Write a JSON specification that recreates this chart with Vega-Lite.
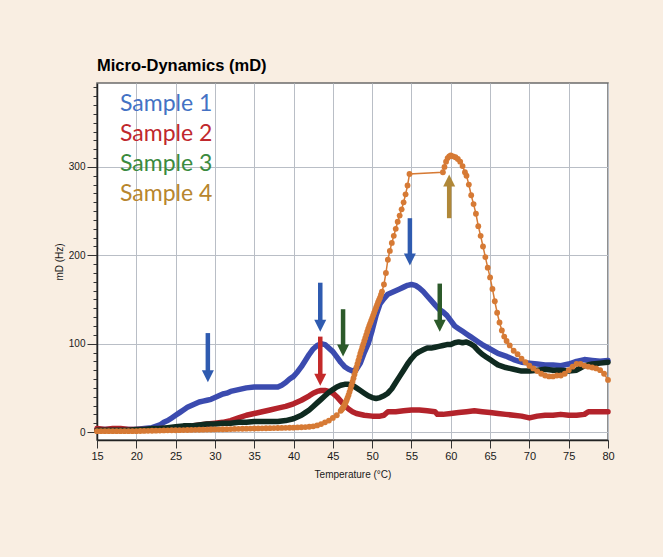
{
"$schema": "https://vega.github.io/schema/vega-lite/v6.json",
"width": 511, "height": 357,
"autosize": {"type": "none"},
"padding": {"left": 97, "top": 83, "right": 55, "bottom": 117},
"background": "#F9EEE2",
"config": {"view": {"fill": "white", "stroke": "#6b6b6b", "strokeWidth": 1.5}, "font": "Liberation Sans"},
"title": {"text": "Micro-Dynamics (mD)", "anchor": "start", "frame": "group", "font": "Liberation Sans", "fontSize": 16.5, "fontWeight": "bold", "color": "#000000", "offset": 8},
"datasets": {
"curves": [
{"sample":"Sample 1","temp":15,"mD":3},{"sample":"Sample 1","temp":16,"mD":3},{"sample":"Sample 1","temp":17,"mD":3},{"sample":"Sample 1","temp":18,"mD":3},{"sample":"Sample 1","temp":19,"mD":3},{"sample":"Sample 1","temp":20,"mD":3},{"sample":"Sample 1","temp":21,"mD":4},{"sample":"Sample 1","temp":22,"mD":5},{"sample":"Sample 1","temp":23,"mD":8},{"sample":"Sample 1","temp":23.5,"mD":11},{"sample":"Sample 1","temp":24,"mD":13},{"sample":"Sample 1","temp":24.5,"mD":16},{"sample":"Sample 1","temp":25,"mD":19},{"sample":"Sample 1","temp":25.5,"mD":22},{"sample":"Sample 1","temp":26,"mD":25},{"sample":"Sample 1","temp":26.5,"mD":28},{"sample":"Sample 1","temp":27,"mD":30},{"sample":"Sample 1","temp":27.5,"mD":32},{"sample":"Sample 1","temp":28,"mD":34},{"sample":"Sample 1","temp":28.5,"mD":35},{"sample":"Sample 1","temp":29,"mD":36},{"sample":"Sample 1","temp":29.5,"mD":37},{"sample":"Sample 1","temp":30,"mD":39},{"sample":"Sample 1","temp":30.5,"mD":41},{"sample":"Sample 1","temp":31,"mD":43},{"sample":"Sample 1","temp":31.5,"mD":44},{"sample":"Sample 1","temp":32,"mD":46},{"sample":"Sample 1","temp":33,"mD":48},{"sample":"Sample 1","temp":34,"mD":50},{"sample":"Sample 1","temp":35,"mD":51},{"sample":"Sample 1","temp":36,"mD":51},{"sample":"Sample 1","temp":37,"mD":51},{"sample":"Sample 1","temp":38,"mD":51},{"sample":"Sample 1","temp":38.5,"mD":53},{"sample":"Sample 1","temp":39,"mD":56},{"sample":"Sample 1","temp":39.5,"mD":60},{"sample":"Sample 1","temp":40,"mD":63},{"sample":"Sample 1","temp":40.5,"mD":68},{"sample":"Sample 1","temp":41,"mD":74},{"sample":"Sample 1","temp":41.5,"mD":81},{"sample":"Sample 1","temp":42,"mD":88},{"sample":"Sample 1","temp":42.5,"mD":94},{"sample":"Sample 1","temp":43,"mD":98},{"sample":"Sample 1","temp":43.5,"mD":100},{"sample":"Sample 1","temp":44,"mD":99},{"sample":"Sample 1","temp":44.5,"mD":95},{"sample":"Sample 1","temp":45,"mD":91},{"sample":"Sample 1","temp":45.5,"mD":85},{"sample":"Sample 1","temp":46,"mD":79},{"sample":"Sample 1","temp":46.5,"mD":74},{"sample":"Sample 1","temp":47,"mD":71},{"sample":"Sample 1","temp":47.5,"mD":69},{"sample":"Sample 1","temp":48,"mD":71},{"sample":"Sample 1","temp":48.5,"mD":78},{"sample":"Sample 1","temp":49,"mD":90},{"sample":"Sample 1","temp":49.5,"mD":100},{"sample":"Sample 1","temp":50,"mD":115},{"sample":"Sample 1","temp":50.5,"mD":132},{"sample":"Sample 1","temp":51,"mD":145},{"sample":"Sample 1","temp":51.5,"mD":151},{"sample":"Sample 1","temp":52,"mD":156},{"sample":"Sample 1","temp":52.5,"mD":158},{"sample":"Sample 1","temp":53,"mD":160},{"sample":"Sample 1","temp":53.5,"mD":162},{"sample":"Sample 1","temp":54,"mD":164},{"sample":"Sample 1","temp":54.5,"mD":166},{"sample":"Sample 1","temp":55,"mD":167},{"sample":"Sample 1","temp":55.5,"mD":166},{"sample":"Sample 1","temp":56,"mD":163},{"sample":"Sample 1","temp":56.5,"mD":159},{"sample":"Sample 1","temp":57,"mD":154},{"sample":"Sample 1","temp":57.5,"mD":149},{"sample":"Sample 1","temp":58,"mD":144},{"sample":"Sample 1","temp":58.5,"mD":139},{"sample":"Sample 1","temp":59,"mD":136},{"sample":"Sample 1","temp":59.5,"mD":132},{"sample":"Sample 1","temp":60,"mD":126},{"sample":"Sample 1","temp":60.5,"mD":120},{"sample":"Sample 1","temp":61,"mD":117},{"sample":"Sample 1","temp":61.5,"mD":114},{"sample":"Sample 1","temp":62,"mD":111},{"sample":"Sample 1","temp":62.5,"mD":108},{"sample":"Sample 1","temp":63,"mD":105},{"sample":"Sample 1","temp":63.5,"mD":102},{"sample":"Sample 1","temp":64,"mD":99},{"sample":"Sample 1","temp":65,"mD":94},{"sample":"Sample 1","temp":66,"mD":89},{"sample":"Sample 1","temp":67,"mD":86},{"sample":"Sample 1","temp":68,"mD":82},{"sample":"Sample 1","temp":69,"mD":79},{"sample":"Sample 1","temp":70,"mD":78},{"sample":"Sample 1","temp":71,"mD":77},{"sample":"Sample 1","temp":72,"mD":76},{"sample":"Sample 1","temp":73,"mD":76},{"sample":"Sample 1","temp":74,"mD":75},{"sample":"Sample 1","temp":75,"mD":77},{"sample":"Sample 1","temp":76,"mD":80},{"sample":"Sample 1","temp":77,"mD":82},{"sample":"Sample 1","temp":78,"mD":81},{"sample":"Sample 1","temp":79,"mD":80},{"sample":"Sample 1","temp":80,"mD":81},
{"sample":"Sample 2","temp":15,"mD":4},{"sample":"Sample 2","temp":16,"mD":3},{"sample":"Sample 2","temp":17,"mD":4},{"sample":"Sample 2","temp":18,"mD":4},{"sample":"Sample 2","temp":19,"mD":3},{"sample":"Sample 2","temp":20,"mD":3},{"sample":"Sample 2","temp":21,"mD":3},{"sample":"Sample 2","temp":22,"mD":3},{"sample":"Sample 2","temp":23,"mD":4},{"sample":"Sample 2","temp":24,"mD":4},{"sample":"Sample 2","temp":25,"mD":5},{"sample":"Sample 2","temp":26,"mD":6},{"sample":"Sample 2","temp":27,"mD":7},{"sample":"Sample 2","temp":28,"mD":8},{"sample":"Sample 2","temp":29,"mD":9},{"sample":"Sample 2","temp":30,"mD":10},{"sample":"Sample 2","temp":31,"mD":11},{"sample":"Sample 2","temp":32,"mD":13},{"sample":"Sample 2","temp":33,"mD":16},{"sample":"Sample 2","temp":34,"mD":19},{"sample":"Sample 2","temp":35,"mD":21},{"sample":"Sample 2","temp":36,"mD":23},{"sample":"Sample 2","temp":37,"mD":25},{"sample":"Sample 2","temp":38,"mD":27},{"sample":"Sample 2","temp":39,"mD":29},{"sample":"Sample 2","temp":40,"mD":32},{"sample":"Sample 2","temp":41,"mD":36},{"sample":"Sample 2","temp":42,"mD":41},{"sample":"Sample 2","temp":42.5,"mD":44},{"sample":"Sample 2","temp":43,"mD":46},{"sample":"Sample 2","temp":43.5,"mD":47},{"sample":"Sample 2","temp":44,"mD":47},{"sample":"Sample 2","temp":44.5,"mD":46},{"sample":"Sample 2","temp":45,"mD":44},{"sample":"Sample 2","temp":45.5,"mD":40},{"sample":"Sample 2","temp":46,"mD":35},{"sample":"Sample 2","temp":46.5,"mD":30},{"sample":"Sample 2","temp":47,"mD":26},{"sample":"Sample 2","temp":47.5,"mD":23},{"sample":"Sample 2","temp":48,"mD":21},{"sample":"Sample 2","temp":49,"mD":19},{"sample":"Sample 2","temp":50,"mD":18},{"sample":"Sample 2","temp":51,"mD":18},{"sample":"Sample 2","temp":51.5,"mD":19},{"sample":"Sample 2","temp":52,"mD":23},{"sample":"Sample 2","temp":53,"mD":23},{"sample":"Sample 2","temp":54,"mD":24},{"sample":"Sample 2","temp":55,"mD":25},{"sample":"Sample 2","temp":56,"mD":25},{"sample":"Sample 2","temp":57,"mD":24},{"sample":"Sample 2","temp":58,"mD":23},{"sample":"Sample 2","temp":58.3,"mD":20},{"sample":"Sample 2","temp":59,"mD":20},{"sample":"Sample 2","temp":60,"mD":21},{"sample":"Sample 2","temp":61,"mD":22},{"sample":"Sample 2","temp":62,"mD":23},{"sample":"Sample 2","temp":63,"mD":24},{"sample":"Sample 2","temp":64,"mD":23},{"sample":"Sample 2","temp":65,"mD":22},{"sample":"Sample 2","temp":66,"mD":21},{"sample":"Sample 2","temp":67,"mD":20},{"sample":"Sample 2","temp":68,"mD":19},{"sample":"Sample 2","temp":69,"mD":18},{"sample":"Sample 2","temp":70,"mD":16},{"sample":"Sample 2","temp":71,"mD":18},{"sample":"Sample 2","temp":72,"mD":19},{"sample":"Sample 2","temp":73,"mD":19},{"sample":"Sample 2","temp":74,"mD":20},{"sample":"Sample 2","temp":75,"mD":19},{"sample":"Sample 2","temp":76,"mD":19},{"sample":"Sample 2","temp":77,"mD":20},{"sample":"Sample 2","temp":77.5,"mD":23},{"sample":"Sample 2","temp":78,"mD":23},{"sample":"Sample 2","temp":79,"mD":23},{"sample":"Sample 2","temp":80,"mD":23},
{"sample":"Sample 3","temp":15,"mD":2},{"sample":"Sample 3","temp":16,"mD":2},{"sample":"Sample 3","temp":17,"mD":2},{"sample":"Sample 3","temp":18,"mD":2},{"sample":"Sample 3","temp":19,"mD":2},{"sample":"Sample 3","temp":20,"mD":3},{"sample":"Sample 3","temp":21,"mD":3},{"sample":"Sample 3","temp":22,"mD":4},{"sample":"Sample 3","temp":23,"mD":4},{"sample":"Sample 3","temp":24,"mD":5},{"sample":"Sample 3","temp":25,"mD":6},{"sample":"Sample 3","temp":26,"mD":7},{"sample":"Sample 3","temp":27,"mD":7},{"sample":"Sample 3","temp":28,"mD":8},{"sample":"Sample 3","temp":29,"mD":9},{"sample":"Sample 3","temp":30,"mD":9},{"sample":"Sample 3","temp":31,"mD":10},{"sample":"Sample 3","temp":32,"mD":10},{"sample":"Sample 3","temp":33,"mD":11},{"sample":"Sample 3","temp":34,"mD":11},{"sample":"Sample 3","temp":35,"mD":12},{"sample":"Sample 3","temp":36,"mD":12},{"sample":"Sample 3","temp":37,"mD":12},{"sample":"Sample 3","temp":38,"mD":12},{"sample":"Sample 3","temp":39,"mD":13},{"sample":"Sample 3","temp":40,"mD":15},{"sample":"Sample 3","temp":40.5,"mD":17},{"sample":"Sample 3","temp":41,"mD":19},{"sample":"Sample 3","temp":41.5,"mD":22},{"sample":"Sample 3","temp":42,"mD":25},{"sample":"Sample 3","temp":42.5,"mD":29},{"sample":"Sample 3","temp":43,"mD":33},{"sample":"Sample 3","temp":43.5,"mD":37},{"sample":"Sample 3","temp":44,"mD":41},{"sample":"Sample 3","temp":44.5,"mD":45},{"sample":"Sample 3","temp":45,"mD":48},{"sample":"Sample 3","temp":45.5,"mD":51},{"sample":"Sample 3","temp":46,"mD":53},{"sample":"Sample 3","temp":46.5,"mD":54},{"sample":"Sample 3","temp":47,"mD":54},{"sample":"Sample 3","temp":47.5,"mD":53},{"sample":"Sample 3","temp":48,"mD":50},{"sample":"Sample 3","temp":48.5,"mD":47},{"sample":"Sample 3","temp":49,"mD":44},{"sample":"Sample 3","temp":49.5,"mD":41},{"sample":"Sample 3","temp":50,"mD":39},{"sample":"Sample 3","temp":50.5,"mD":38},{"sample":"Sample 3","temp":51,"mD":39},{"sample":"Sample 3","temp":51.5,"mD":41},{"sample":"Sample 3","temp":52,"mD":44},{"sample":"Sample 3","temp":52.5,"mD":49},{"sample":"Sample 3","temp":53,"mD":56},{"sample":"Sample 3","temp":53.5,"mD":63},{"sample":"Sample 3","temp":54,"mD":70},{"sample":"Sample 3","temp":54.5,"mD":77},{"sample":"Sample 3","temp":55,"mD":83},{"sample":"Sample 3","temp":55.5,"mD":88},{"sample":"Sample 3","temp":56,"mD":91},{"sample":"Sample 3","temp":56.5,"mD":93},{"sample":"Sample 3","temp":57,"mD":95},{"sample":"Sample 3","temp":57.5,"mD":95},{"sample":"Sample 3","temp":58,"mD":96},{"sample":"Sample 3","temp":58.5,"mD":97},{"sample":"Sample 3","temp":59,"mD":98},{"sample":"Sample 3","temp":59.5,"mD":99},{"sample":"Sample 3","temp":60,"mD":99},{"sample":"Sample 3","temp":60.5,"mD":101},{"sample":"Sample 3","temp":61,"mD":102},{"sample":"Sample 3","temp":61.5,"mD":101},{"sample":"Sample 3","temp":62,"mD":102},{"sample":"Sample 3","temp":62.5,"mD":100},{"sample":"Sample 3","temp":63,"mD":97},{"sample":"Sample 3","temp":63.5,"mD":92},{"sample":"Sample 3","temp":64,"mD":88},{"sample":"Sample 3","temp":64.5,"mD":85},{"sample":"Sample 3","temp":65,"mD":82},{"sample":"Sample 3","temp":65.5,"mD":79},{"sample":"Sample 3","temp":66,"mD":76},{"sample":"Sample 3","temp":67,"mD":73},{"sample":"Sample 3","temp":68,"mD":71},{"sample":"Sample 3","temp":69,"mD":69},{"sample":"Sample 3","temp":70,"mD":69},{"sample":"Sample 3","temp":71,"mD":70},{"sample":"Sample 3","temp":72,"mD":71},{"sample":"Sample 3","temp":73,"mD":70},{"sample":"Sample 3","temp":74,"mD":70},{"sample":"Sample 3","temp":75,"mD":69},{"sample":"Sample 3","temp":76,"mD":70},{"sample":"Sample 3","temp":77,"mD":75},{"sample":"Sample 3","temp":78,"mD":77},{"sample":"Sample 3","temp":79,"mD":78},{"sample":"Sample 3","temp":80,"mD":79},
{"sample":"Sample 4","temp":15,"mD":1},{"sample":"Sample 4","temp":15.5,"mD":1},{"sample":"Sample 4","temp":16,"mD":1},{"sample":"Sample 4","temp":16.5,"mD":1},{"sample":"Sample 4","temp":17,"mD":1},{"sample":"Sample 4","temp":17.5,"mD":1},{"sample":"Sample 4","temp":18,"mD":1},{"sample":"Sample 4","temp":18.5,"mD":1},{"sample":"Sample 4","temp":19,"mD":1},{"sample":"Sample 4","temp":19.5,"mD":1},{"sample":"Sample 4","temp":20,"mD":1},{"sample":"Sample 4","temp":20.5,"mD":1.2},{"sample":"Sample 4","temp":21,"mD":1.3},{"sample":"Sample 4","temp":21.5,"mD":1.4},{"sample":"Sample 4","temp":22,"mD":1.5},{"sample":"Sample 4","temp":22.5,"mD":1.6},{"sample":"Sample 4","temp":23,"mD":1.7},{"sample":"Sample 4","temp":23.5,"mD":1.8},{"sample":"Sample 4","temp":24,"mD":1.9},{"sample":"Sample 4","temp":24.5,"mD":2},{"sample":"Sample 4","temp":25,"mD":2},{"sample":"Sample 4","temp":25.5,"mD":2.1},{"sample":"Sample 4","temp":26,"mD":2.2},{"sample":"Sample 4","temp":26.5,"mD":2.3},{"sample":"Sample 4","temp":27,"mD":2.4},{"sample":"Sample 4","temp":27.5,"mD":2.5},{"sample":"Sample 4","temp":28,"mD":2.6},{"sample":"Sample 4","temp":28.5,"mD":2.7},{"sample":"Sample 4","temp":29,"mD":2.8},{"sample":"Sample 4","temp":29.5,"mD":2.9},{"sample":"Sample 4","temp":30,"mD":3},{"sample":"Sample 4","temp":30.5,"mD":3.1},{"sample":"Sample 4","temp":31,"mD":3.2},{"sample":"Sample 4","temp":31.5,"mD":3.3},{"sample":"Sample 4","temp":32,"mD":3.4},{"sample":"Sample 4","temp":32.5,"mD":3.5},{"sample":"Sample 4","temp":33,"mD":3.6},{"sample":"Sample 4","temp":33.5,"mD":3.7},{"sample":"Sample 4","temp":34,"mD":3.8},{"sample":"Sample 4","temp":34.5,"mD":3.9},{"sample":"Sample 4","temp":35,"mD":4},{"sample":"Sample 4","temp":35.5,"mD":4.1},{"sample":"Sample 4","temp":36,"mD":4.2},{"sample":"Sample 4","temp":36.5,"mD":4.3},{"sample":"Sample 4","temp":37,"mD":4.4},{"sample":"Sample 4","temp":37.5,"mD":4.5},{"sample":"Sample 4","temp":38,"mD":4.6},{"sample":"Sample 4","temp":38.5,"mD":4.7},{"sample":"Sample 4","temp":39,"mD":4.8},{"sample":"Sample 4","temp":39.5,"mD":4.9},{"sample":"Sample 4","temp":40,"mD":5},{"sample":"Sample 4","temp":40.5,"mD":5.2},{"sample":"Sample 4","temp":41,"mD":5.4},{"sample":"Sample 4","temp":41.5,"mD":5.6},{"sample":"Sample 4","temp":42,"mD":6},{"sample":"Sample 4","temp":42.5,"mD":6.5},{"sample":"Sample 4","temp":43,"mD":7.5},{"sample":"Sample 4","temp":43.5,"mD":9},{"sample":"Sample 4","temp":44,"mD":11},{"sample":"Sample 4","temp":44.5,"mD":13},{"sample":"Sample 4","temp":45,"mD":16},{"sample":"Sample 4","temp":45.5,"mD":19},{"sample":"Sample 4","temp":46,"mD":24},{"sample":"Sample 4","temp":46.125,"mD":25.5},{"sample":"Sample 4","temp":46.25,"mD":27},{"sample":"Sample 4","temp":46.375,"mD":29},{"sample":"Sample 4","temp":46.5,"mD":31},{"sample":"Sample 4","temp":46.625,"mD":33.5},{"sample":"Sample 4","temp":46.75,"mD":36},{"sample":"Sample 4","temp":46.875,"mD":39},{"sample":"Sample 4","temp":47,"mD":42},{"sample":"Sample 4","temp":47.125,"mD":45.5},{"sample":"Sample 4","temp":47.25,"mD":49},{"sample":"Sample 4","temp":47.375,"mD":53},{"sample":"Sample 4","temp":47.5,"mD":57},{"sample":"Sample 4","temp":47.625,"mD":61},{"sample":"Sample 4","temp":47.75,"mD":65},{"sample":"Sample 4","temp":47.875,"mD":69},{"sample":"Sample 4","temp":48,"mD":73},{"sample":"Sample 4","temp":48.125,"mD":77},{"sample":"Sample 4","temp":48.25,"mD":81},{"sample":"Sample 4","temp":48.375,"mD":85},{"sample":"Sample 4","temp":48.5,"mD":89},{"sample":"Sample 4","temp":48.625,"mD":92.5},{"sample":"Sample 4","temp":48.75,"mD":96},{"sample":"Sample 4","temp":48.875,"mD":99.5},{"sample":"Sample 4","temp":49,"mD":103},{"sample":"Sample 4","temp":49.125,"mD":106.5},{"sample":"Sample 4","temp":49.25,"mD":110},{"sample":"Sample 4","temp":49.375,"mD":113.5},{"sample":"Sample 4","temp":49.5,"mD":117},{"sample":"Sample 4","temp":49.625,"mD":120},{"sample":"Sample 4","temp":49.75,"mD":123},{"sample":"Sample 4","temp":49.875,"mD":126},{"sample":"Sample 4","temp":50,"mD":129},{"sample":"Sample 4","temp":50.125,"mD":132},{"sample":"Sample 4","temp":50.25,"mD":135},{"sample":"Sample 4","temp":50.375,"mD":138},{"sample":"Sample 4","temp":50.5,"mD":141},{"sample":"Sample 4","temp":50.625,"mD":144},{"sample":"Sample 4","temp":50.75,"mD":147},{"sample":"Sample 4","temp":50.875,"mD":149.5},{"sample":"Sample 4","temp":51,"mD":152},{"sample":"Sample 4","temp":51.125,"mD":155.5},{"sample":"Sample 4","temp":51.25,"mD":159},{"sample":"Sample 4","temp":51.5,"mD":167},{"sample":"Sample 4","temp":51.75,"mD":180},{"sample":"Sample 4","temp":52,"mD":195},{"sample":"Sample 4","temp":52.25,"mD":205},{"sample":"Sample 4","temp":52.5,"mD":214},{"sample":"Sample 4","temp":52.75,"mD":222},{"sample":"Sample 4","temp":53,"mD":230},{"sample":"Sample 4","temp":53.25,"mD":238},{"sample":"Sample 4","temp":53.5,"mD":245},{"sample":"Sample 4","temp":53.75,"mD":252},{"sample":"Sample 4","temp":54,"mD":260},{"sample":"Sample 4","temp":54.25,"mD":269},{"sample":"Sample 4","temp":54.5,"mD":279},{"sample":"Sample 4","temp":54.75,"mD":292},{"sample":"Sample 4","temp":59,"mD":294},{"sample":"Sample 4","temp":59.2,"mD":300},{"sample":"Sample 4","temp":59.4,"mD":306},{"sample":"Sample 4","temp":59.6,"mD":310},{"sample":"Sample 4","temp":59.8,"mD":312},{"sample":"Sample 4","temp":60,"mD":313},{"sample":"Sample 4","temp":60.3,"mD":312},{"sample":"Sample 4","temp":60.6,"mD":311},{"sample":"Sample 4","temp":60.9,"mD":309},{"sample":"Sample 4","temp":61.2,"mD":306},{"sample":"Sample 4","temp":61.5,"mD":301},{"sample":"Sample 4","temp":61.8,"mD":294},{"sample":"Sample 4","temp":62,"mD":290},{"sample":"Sample 4","temp":62.3,"mD":280},{"sample":"Sample 4","temp":62.6,"mD":268},{"sample":"Sample 4","temp":62.9,"mD":258},{"sample":"Sample 4","temp":63.2,"mD":247},{"sample":"Sample 4","temp":63.5,"mD":233},{"sample":"Sample 4","temp":63.8,"mD":222},{"sample":"Sample 4","temp":64.1,"mD":210},{"sample":"Sample 4","temp":64.4,"mD":198},{"sample":"Sample 4","temp":64.7,"mD":186},{"sample":"Sample 4","temp":65,"mD":175},{"sample":"Sample 4","temp":65.3,"mD":162},{"sample":"Sample 4","temp":65.6,"mD":148},{"sample":"Sample 4","temp":65.9,"mD":135},{"sample":"Sample 4","temp":66.2,"mD":124},{"sample":"Sample 4","temp":66.5,"mD":115},{"sample":"Sample 4","temp":66.8,"mD":108},{"sample":"Sample 4","temp":67.1,"mD":103},{"sample":"Sample 4","temp":67.5,"mD":98},{"sample":"Sample 4","temp":68,"mD":92},{"sample":"Sample 4","temp":68.5,"mD":88},{"sample":"Sample 4","temp":69,"mD":83},{"sample":"Sample 4","temp":69.5,"mD":79},{"sample":"Sample 4","temp":70,"mD":75},{"sample":"Sample 4","temp":70.5,"mD":72},{"sample":"Sample 4","temp":71,"mD":69},{"sample":"Sample 4","temp":71.5,"mD":66},{"sample":"Sample 4","temp":72,"mD":64},{"sample":"Sample 4","temp":72.5,"mD":63},{"sample":"Sample 4","temp":73,"mD":63},{"sample":"Sample 4","temp":73.5,"mD":64},{"sample":"Sample 4","temp":74,"mD":64},{"sample":"Sample 4","temp":74.5,"mD":66},{"sample":"Sample 4","temp":75,"mD":70},{"sample":"Sample 4","temp":75.5,"mD":74},{"sample":"Sample 4","temp":76,"mD":77},{"sample":"Sample 4","temp":76.5,"mD":77},{"sample":"Sample 4","temp":77,"mD":75},{"sample":"Sample 4","temp":77.5,"mD":74},{"sample":"Sample 4","temp":78,"mD":73},{"sample":"Sample 4","temp":78.5,"mD":72},{"sample":"Sample 4","temp":79,"mD":70},{"sample":"Sample 4","temp":79.5,"mD":66},{"sample":"Sample 4","temp":80,"mD":59}
],
"arrows": [
{"sample":"Sample 1","temp":29.1,"from":112,"to":69,"dir":"down"},
{"sample":"Sample 1","temp":43.4,"from":169,"to":126,"dir":"down"},
{"sample":"Sample 2","temp":43.4,"from":108,"to":65,"dir":"down"},
{"sample":"Sample 3","temp":46.3,"from":139,"to":98,"dir":"down"},
{"sample":"Sample 1","temp":54.8,"from":242,"to":201,"dir":"down"},
{"sample":"Sample 3","temp":58.6,"from":168,"to":126,"dir":"down"},
{"sample":"Sample 4","temp":59.8,"from":242,"to":279,"dir":"up"}
]
},
"encoding": {
"x": {"field": "temp", "type": "quantitative", "title": "Temperature (°C)",
  "scale": {"domain": [15, 80], "nice": false, "zero": false},
  "axis": {"values": [15,20,25,30,35,40,45,50,55,60,65,70,75,80], "labelOverlap": false, "labelFlush": false, "grid": true, "gridColor": "#B9BEC6", "gridWidth": 1, "tickSize": 8, "tickColor": "#333333", "domainColor": "#222222", "domainWidth": 1.5, "labelFont": "Liberation Sans", "labelFontSize": 11, "labelColor": "#1a1a1a", "labelPadding": 2, "titleFont": "Liberation Sans", "titleFontSize": 10, "titleFontWeight": "normal", "titleColor": "#1a1a1a", "titlePadding": 8}}
},
"layer": [
{
"data": {"name": "curves"},
"transform": [{"filter": "datum.sample !== 'Sample 4'"}],
"mark": {"type": "line", "strokeCap": "round", "strokeJoin": "round", "strokeWidth": 5.5},
"encoding": {
"y": {"field": "mD", "type": "quantitative", "title": "mD (Hz)",
  "scale": {"domain": [-9, 395], "nice": false, "zero": false},
  "axis": {"values": [0,10,20,30,40,50,60,70,80,90,100,110,120,130,140,150,160,170,180,190,200,210,220,230,240,250,260,270,280,290,300,310,320,330,340,350,360,370,380,390], "labelOverlap": false,
    "labelExpr": "datum.value % 100 === 0 ? datum.label : ''",
    "grid": true, "gridColor": "#B9BEC6", "gridWidth": 1,
    "gridOpacity": {"condition": {"test": "datum.value % 100 === 0", "value": 1}, "value": 0},
    "tickSize": {"condition": {"test": "datum.value % 100 === 0", "value": 10}, "value": 4},
    "tickColor": "#333333", "domainColor": "#222222", "domainWidth": 1.5, "labelFont": "Liberation Sans", "labelFontSize": 10, "labelColor": "#1a1a1a", "labelPadding": 2, "titleFont": "Liberation Sans", "titleFontSize": 10, "titleFontWeight": "normal", "titleColor": "#1a1a1a", "titlePadding": 4}},
"color": {"field": "sample", "type": "nominal",
  "scale": {"domain": ["Sample 1","Sample 2","Sample 3","Sample 4"], "range": ["#3B4BAF","#B3232B","#0F2A20","#D67A35"]},
  "legend": {"orient": "none", "legendX": 0, "legendY": 9, "title": null, "symbolOpacity": 0, "symbolSize": 0, "symbolStrokeWidth": 0, "labelFont": "Lato", "labelFontSize": 23, "labelOffset": 0, "rowPadding": 6, "padding": 0, "labelLimit": 300,
    "encode": {"labels": {"update": {"fill": {"signal": "datum.value === 'Sample 1' ? '#4472C4' : datum.value === 'Sample 2' ? '#C0282D' : datum.value === 'Sample 3' ? '#3B8A3E' : '#B8862E'"}}}}}}
}
},
{
"data": {"name": "curves"},
"transform": [{"filter": "datum.sample === 'Sample 4'"}],
"mark": {"type": "line", "strokeWidth": 1.5, "color": "#D67A35"},
"encoding": {
"y": {"field": "mD", "type": "quantitative", "title": "mD (Hz)",
  "scale": {"domain": [-9, 395], "nice": false, "zero": false},
  "axis": {"values": [0,10,20,30,40,50,60,70,80,90,100,110,120,130,140,150,160,170,180,190,200,210,220,230,240,250,260,270,280,290,300,310,320,330,340,350,360,370,380,390], "labelOverlap": false,
    "labelExpr": "datum.value % 100 === 0 ? datum.label : ''",
    "grid": true, "gridColor": "#B9BEC6", "gridWidth": 1,
    "gridOpacity": {"condition": {"test": "datum.value % 100 === 0", "value": 1}, "value": 0},
    "tickSize": {"condition": {"test": "datum.value % 100 === 0", "value": 10}, "value": 4},
    "tickColor": "#333333", "domainColor": "#222222", "domainWidth": 1.5, "labelFont": "Liberation Sans", "labelFontSize": 10, "labelColor": "#1a1a1a", "labelPadding": 2, "titleFont": "Liberation Sans", "titleFontSize": 10, "titleFontWeight": "normal", "titleColor": "#1a1a1a", "titlePadding": 4}}
}
},
{
"data": {"name": "curves"},
"transform": [{"filter": "datum.sample === 'Sample 4'"}],
"mark": {"type": "point", "filled": true, "opacity": 1, "size": 34, "color": "#D67A35"},
"encoding": {
"y": {"field": "mD", "type": "quantitative", "title": "mD (Hz)",
  "scale": {"domain": [-9, 395], "nice": false, "zero": false},
  "axis": {"values": [0,10,20,30,40,50,60,70,80,90,100,110,120,130,140,150,160,170,180,190,200,210,220,230,240,250,260,270,280,290,300,310,320,330,340,350,360,370,380,390], "labelOverlap": false,
    "labelExpr": "datum.value % 100 === 0 ? datum.label : ''",
    "grid": true, "gridColor": "#B9BEC6", "gridWidth": 1,
    "gridOpacity": {"condition": {"test": "datum.value % 100 === 0", "value": 1}, "value": 0},
    "tickSize": {"condition": {"test": "datum.value % 100 === 0", "value": 10}, "value": 4},
    "tickColor": "#333333", "domainColor": "#222222", "domainWidth": 1.5, "labelFont": "Liberation Sans", "labelFontSize": 10, "labelColor": "#1a1a1a", "labelPadding": 2, "titleFont": "Liberation Sans", "titleFontSize": 10, "titleFontWeight": "normal", "titleColor": "#1a1a1a", "titlePadding": 4}}
}
},
{
"data": {"name": "arrows"},
"mark": {"type": "rule", "strokeWidth": 4.5, "strokeCap": "butt"},
"encoding": {
"y": {"field": "from", "type": "quantitative", "title": "mD (Hz)",
  "scale": {"domain": [-9, 395], "nice": false, "zero": false},
  "axis": {"values": [0,10,20,30,40,50,60,70,80,90,100,110,120,130,140,150,160,170,180,190,200,210,220,230,240,250,260,270,280,290,300,310,320,330,340,350,360,370,380,390], "labelOverlap": false,
    "labelExpr": "datum.value % 100 === 0 ? datum.label : ''",
    "grid": true, "gridColor": "#B9BEC6", "gridWidth": 1,
    "gridOpacity": {"condition": {"test": "datum.value % 100 === 0", "value": 1}, "value": 0},
    "tickSize": {"condition": {"test": "datum.value % 100 === 0", "value": 10}, "value": 4},
    "tickColor": "#333333", "domainColor": "#222222", "domainWidth": 1.5, "labelFont": "Liberation Sans", "labelFontSize": 10, "labelColor": "#1a1a1a", "labelPadding": 2, "titleFont": "Liberation Sans", "titleFontSize": 10, "titleFontWeight": "normal", "titleColor": "#1a1a1a", "titlePadding": 4}},
"y2": {"field": "to"},
"stroke": {"field": "sample", "type": "nominal", "scale": {"domain": ["Sample 1","Sample 2","Sample 3","Sample 4"], "range": ["#2F5BB0","#C42A2A","#2C5A2A","#B08838"]}, "legend": null}
}
},
{
"data": {"name": "arrows"},
"mark": {"type": "point", "filled": true, "opacity": 1, "size": 144, "strokeWidth": 0},
"encoding": {
"y": {"field": "to", "type": "quantitative", "title": "mD (Hz)",
  "scale": {"domain": [-9, 395], "nice": false, "zero": false},
  "axis": {"values": [0,10,20,30,40,50,60,70,80,90,100,110,120,130,140,150,160,170,180,190,200,210,220,230,240,250,260,270,280,290,300,310,320,330,340,350,360,370,380,390], "labelOverlap": false,
    "labelExpr": "datum.value % 100 === 0 ? datum.label : ''",
    "grid": true, "gridColor": "#B9BEC6", "gridWidth": 1,
    "gridOpacity": {"condition": {"test": "datum.value % 100 === 0", "value": 1}, "value": 0},
    "tickSize": {"condition": {"test": "datum.value % 100 === 0", "value": 10}, "value": 4},
    "tickColor": "#333333", "domainColor": "#222222", "domainWidth": 1.5, "labelFont": "Liberation Sans", "labelFontSize": 10, "labelColor": "#1a1a1a", "labelPadding": 2, "titleFont": "Liberation Sans", "titleFontSize": 10, "titleFontWeight": "normal", "titleColor": "#1a1a1a", "titlePadding": 4}},
"shape": {"field": "dir", "type": "nominal", "scale": {"domain": ["down","up"], "range": ["M-1,-0.15L1,-0.15L0,1.85Z", "M-1,0.15L1,0.15L0,-1.85Z"]}, "legend": null},
"fill": {"field": "sample", "type": "nominal", "scale": {"domain": ["Sample 1","Sample 2","Sample 3","Sample 4"], "range": ["#2F5BB0","#C42A2A","#2C5A2A","#B08838"]}, "legend": null}
}
}
]
}
